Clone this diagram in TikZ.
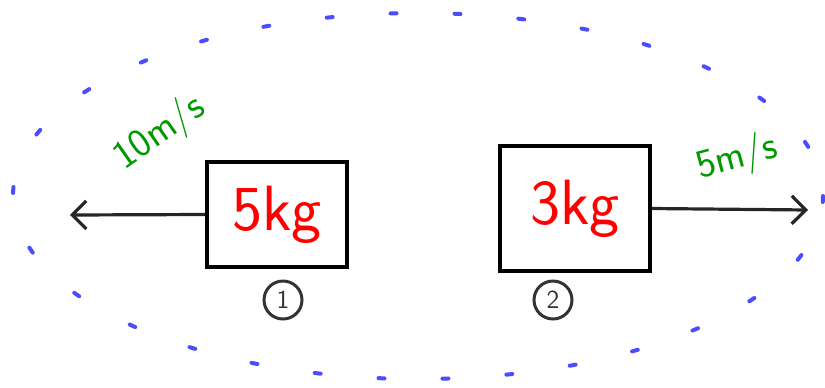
\documentclass[tikz,border=0pt]{standalone}
\usepackage{tikz}
\usetikzlibrary{arrows.meta, positioning}

\begin{document}
\begin{tikzpicture}[
        x=0.5pt, y=-0.5pt,
        mass/.style={rectangle, draw, line width=2pt, font=\fontsize{32}{36}\sffamily, text=red},
        vel/.style={-{Straight Barb[length=7pt, width=14pt, line width=1.6pt]}, line width=1.6pt, black!85},
        speed/.style={font=\fontsize{20}{24}\sffamily, text=green!60!black},
        tag/.style={circle, draw, line width=1.5pt, black!80, inner sep=1pt, minimum size=19pt, font=\fontsize{13}{15}\sffamily},
        system/.style={draw=blue!70, line width=2pt, line cap=round, dash pattern=on 3pt off 29pt}
    ]
        \useasboundingbox (0,0) rectangle (825,387);

        % the system boundary
        \draw[system] (418,196) ellipse [x radius=405, y radius=183];

        % the two masses
        \node[mass, minimum width=70pt, minimum height=52.5pt] (m1) at (277,214.5) {5kg};
        \node[mass, minimum width=75pt, minimum height=62.5pt] (m2) at (575,208.5) {3kg};

        \node[tag] (n1) at (283,300) {1};
        \node[tag] (n2) at (553,300) {2};

        % velocities
        \coordinate (v1) at (70,215);
        \coordinate (v2) at (808,210);
        \draw[vel] (m1.west) -- (v1);
        \draw[vel] (m2.east) -- (v2);

        \node[speed, rotate=35] (s1) at (160,133) {10m/s};
        \node[speed, rotate=15] (s2) at (737,158) {5m/s};
    \end{tikzpicture}
\end{document}
